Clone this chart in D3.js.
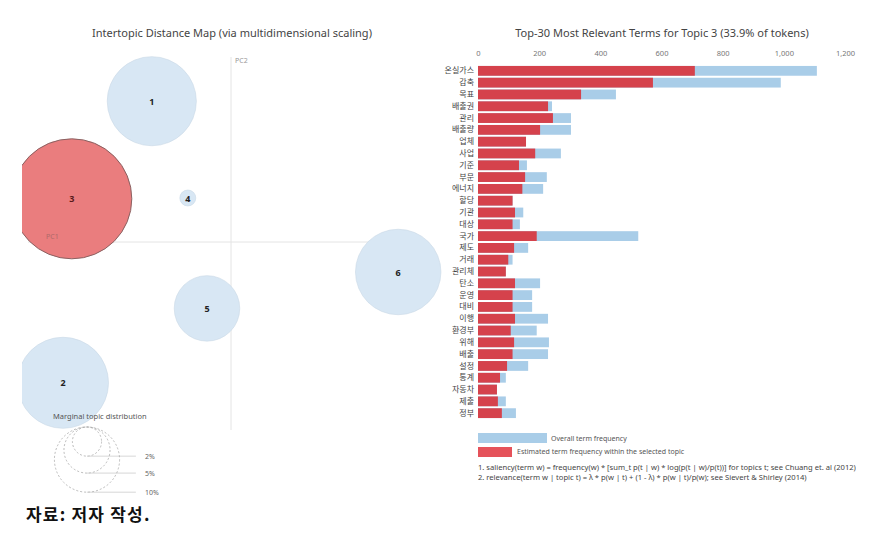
<!DOCTYPE html>
<html><head><meta charset="utf-8">
<script src="https://d3js.org/d3.v7.min.js"></script>
<style>
body{margin:0;background:#fff;}
svg{display:block;font-family:"Noto Sans","Noto Sans CJK KR",sans-serif;}
</style></head>
<body><svg id="c" width="882" height="538"></svg>
<script>
// ---- data ----
const topicIds = [1, 2, 3, 4, 5, 6];
const topicPC1 = [-0.099, -0.210, -0.199, -0.054, -0.030, 0.209];
const topicPC2 = [0.176, -0.176, 0.054, 0.055, -0.083, -0.0375];
const topicPct = [18.7, 19.5, 33.9, 0.6, 10.1, 17.2];
const selectedTopic = 3;

const terms = ["온실가스","감축","목표","배출권","관리","배출량","업체","사업","기준","부문","에너지","할당","기관","대상","국가","제도","거래","관리체","탄소","운영","대비","이행","환경부","위해","배출","설정","통계","자동차","제출","정부"];
const overallFreq = [1108,990,451,242,304,304,157,271,160,225,213,113,148,137,524,164,113,91,203,177,177,229,192,232,229,164,91,62,91,124];
const topicFreq = [709,572,337,229,245,203,157,187,134,154,145,113,121,113,192,118,99,91,121,113,113,121,107,118,113,95,72,62,65,78];
const xTicks = [0,200,400,600,800,1000,1200];
const legendPct = [2,5,10];

const svg = d3.select("#c");
svg.append("rect").attr("width",882).attr("height",538).attr("fill","#fff");

// ---- left panel ----
svg.append("text").attr("x",232).attr("y",37).attr("text-anchor","middle")
  .attr("font-size",11).attr("fill","#444").text("Intertopic Distance Map (via multidimensional scaling)");

const xS = d3.scaleLinear().domain([-0.25,0.25]).range([31,431]);
const yS = d3.scaleLinear().domain([-0.25,0.25]).range([442,42]);
const rS = d3.scaleSqrt().domain([0,33.9]).range([0,60]);

svg.append("defs").append("clipPath").attr("id","lc").append("rect")
  .attr("x",22).attr("y",40).attr("width",430).attr("height",400);

const left = svg.append("g").attr("clip-path","url(#lc)");
left.append("line").attr("x1",xS(0)).attr("x2",xS(0)).attr("y1",57).attr("y2",430)
  .attr("stroke","#e4e4e4").attr("stroke-width",1);
left.append("line").attr("x1",28).attr("x2",415).attr("y1",yS(0)).attr("y2",yS(0))
  .attr("stroke","#e4e4e4").attr("stroke-width",1);
svg.append("text").attr("x",xS(0)+4).attr("y",63).attr("font-size",7).attr("fill","#999").text("PC2");

const topics = topicIds.map((id,i)=>({id, x:topicPC1[i], y:topicPC2[i], p:topicPct[i]}));
left.selectAll("circle.t").data(topics).join("circle").attr("class","t")
  .attr("cx",d=>xS(d.x)).attr("cy",d=>yS(d.y)).attr("r",d=>rS(d.p))
  .attr("fill",d=>d.id===selectedTopic?"#ea7d7e":"#d8e7f4")
  .attr("stroke",d=>d.id===selectedTopic?"#8a6262":"#c9d9e6")
  .attr("stroke-width",d=>d.id===selectedTopic?1:0.6);
svg.append("text").attr("x",46).attr("y",239).attr("font-size",7).attr("fill","#b06a6a").text("PC1");
left.selectAll("text.t").data(topics).join("text").attr("class","t")
  .attr("x",d=>xS(d.x)).attr("y",d=>yS(d.y)+3.5).attr("text-anchor","middle")
  .attr("font-size",9).attr("font-weight","bold")
  .attr("fill",d=>d.id===selectedTopic?"#5a1a1a":"#222").text(d=>d.id);

// marginal legend
svg.append("text").attr("x",53).attr("y",419).attr("font-size",7.5).attr("fill","#555").text("Marginal topic distribution");
const lcx = 87, ltop = 427, rL = rS(10);
const cx2 = lcx + 1.5*rL;
legendPct.forEach(p=>{
  const r = rS(p);
  svg.append("circle").attr("cx",lcx).attr("cy",ltop+r).attr("r",r)
    .attr("fill","none").attr("stroke","#aaa").attr("stroke-dasharray","2 2").attr("stroke-width",0.8);
  svg.append("line").attr("x1",lcx).attr("x2",cx2).attr("y1",ltop+2*r).attr("y2",ltop+2*r)
    .attr("stroke","#ccc").attr("stroke-width",0.8);
  svg.append("text").attr("x",cx2+9).attr("y",ltop+2*r+3).attr("font-size",7).attr("fill","#666").text(p+"%");
});

// ---- right panel ----
svg.append("text").attr("x",662).attr("y",37).attr("text-anchor","middle")
  .attr("font-size",11).attr("fill","#444").text("Top-30 Most Relevant Terms for Topic 3 (33.9% of tokens)");

const bx = d3.scaleLinear().domain([0,1200]).range([478,845]);
const by = d3.scaleBand().domain(terms).range([65,419]).paddingInner(0.17).paddingOuter(0.08);

const xa = svg.append("g").attr("transform","translate(0,56)")
  .call(d3.axisTop(bx).tickValues(xTicks).tickFormat(d3.format(",")).tickSize(0).tickPadding(0));
xa.select(".domain").remove();
xa.selectAll("text").attr("font-size",7.5).attr("fill","#777").attr("font-family","Noto Sans, sans-serif");

const rows = terms.map((t,i)=>({t, o:overallFreq[i], f:topicFreq[i]}));
svg.selectAll("rect.o").data(rows).join("rect").attr("class","o")
  .attr("x",bx(0)).attr("y",d=>by(d.t)).attr("width",d=>bx(d.o)-bx(0)).attr("height",by.bandwidth())
  .attr("fill","#a9cde8");
svg.selectAll("rect.f").data(rows).join("rect").attr("class","f")
  .attr("x",bx(0)).attr("y",d=>by(d.t)).attr("width",d=>bx(d.f)-bx(0)).attr("height",by.bandwidth())
  .attr("fill","#d5424c");
const ya = svg.append("g").attr("transform",`translate(${bx(0)},0)`)
  .call(d3.axisLeft(by).tickSize(0).tickPadding(4));
ya.select(".domain").remove();
ya.selectAll("text").attr("font-size",8).attr("fill","#444").attr("font-family","Noto Sans CJK KR, sans-serif");

// legend
svg.append("rect").attr("x",478).attr("y",433).attr("width",69).attr("height",10).attr("fill","#a9cde8");
svg.append("text").attr("x",551).attr("y",441).attr("font-size",7).attr("fill","#555").text("Overall term frequency");
svg.append("rect").attr("x",478).attr("y",447).attr("width",34).attr("height",10).attr("fill","#e5525a");
svg.append("text").attr("x",517).attr("y",454).attr("font-size",7).attr("fill","#555").text("Estimated term frequency within the selected topic");

svg.append("defs").append("clipPath").attr("id","fc").append("rect")
  .attr("x",470).attr("y",455).attr("width",386).attr("height",30);
const fn = svg.append("g").attr("clip-path","url(#fc)");
fn.append("text").attr("x",478).attr("y",470).attr("font-size",7.6).attr("fill","#444")
  .text("1. saliency(term w) = frequency(w) * [sum_t p(t | w) * log(p(t | w)/p(t))] for topics t; see Chuang et. al (2012)");
fn.append("text").attr("x",478).attr("y",480).attr("font-size",7.6).attr("fill","#444")
  .text("2. relevance(term w | topic t) = λ * p(w | t) + (1 - λ) * p(w | t)/p(w); see Sievert & Shirley (2014)");

// source
svg.append("text").attr("x",26).attr("y",521).attr("font-size",17).attr("font-weight","bold")
  .attr("letter-spacing",1.2)
  .attr("font-family","Noto Sans CJK KR, sans-serif").attr("fill","#111").text("자료: 저자 작성.");
</script></body></html>
